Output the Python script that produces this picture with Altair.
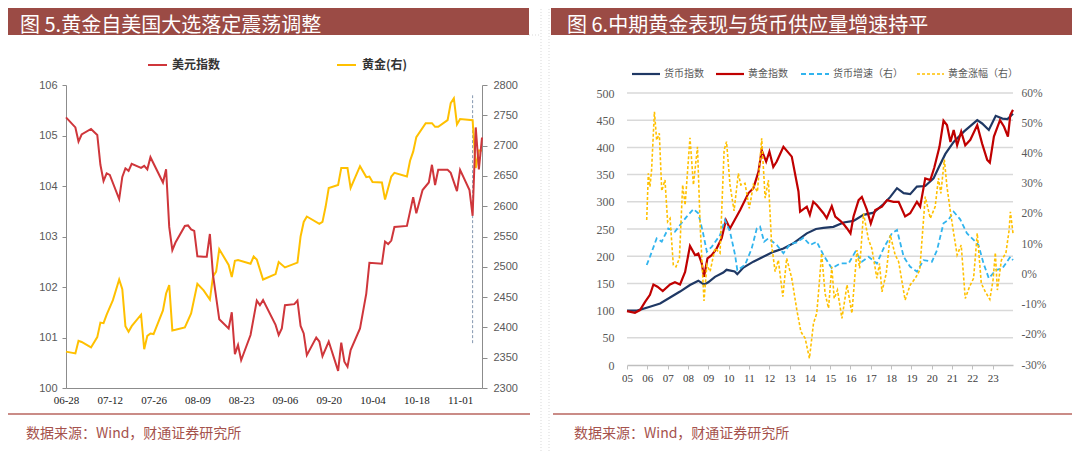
import altair as alt
import pandas as pd

# ---------------- Figure 5: US dollar index vs gold (daily, from 2024-06-28) ----------------
# x = calendar days after 2024-06-28
DXY_DAY = [0, 3, 4, 5, 8, 10, 11, 12, 13, 14, 17, 18, 19, 20, 21, 24, 25, 26, 27, 31,
           32, 33, 34, 35, 38, 39, 40, 41, 42, 44, 45, 46, 47, 49, 52, 53, 54, 55, 56, 59,
           61, 62, 63, 67, 68, 69, 70, 73, 74, 75, 76, 77, 80, 81, 82, 84, 87, 88, 89, 90,
           91, 94, 96, 97, 101, 102, 103, 104, 105, 109, 111, 112, 114, 116, 117, 118, 119, 122, 123, 125,
           126, 129, 130, 131, 132, 133]
DXY_VAL = [105.36, 105.16, 104.88, 105.02, 105.13, 105.01, 104.42, 104.10, 104.25, 104.22,
           103.74, 104.18, 104.35, 104.30, 104.44, 104.36, 104.40, 104.33, 104.57, 104.07,
           104.33, 103.19, 102.73, 102.88, 103.21, 103.22, 103.14, 103.11, 102.61, 102.60,
           102.60, 103.05, 102.24, 101.36, 101.18, 101.50, 100.67, 100.85, 100.55, 101.05,
           101.73, 101.64, 101.74, 101.25, 101.05, 101.18, 101.64, 101.66, 101.73, 101.23,
           101.08, 100.65, 101.00, 100.92, 100.63, 100.92, 100.34, 100.90, 100.52, 100.42,
           100.75, 101.18, 101.87, 102.48, 102.46, 102.90, 102.85, 102.92, 103.19, 103.21,
           103.78, 103.46, 103.92, 104.07, 104.42, 104.02, 104.32, 104.32, 104.26, 103.90,
           104.32, 103.92, 103.41, 105.16, 104.33, 104.96]
GOLD_DAY = [0, 3, 4, 5, 8, 10, 11, 12, 13, 15, 17, 18, 19, 20, 21, 24, 25, 26, 27, 28,
            31, 32, 33, 34, 35, 38, 40, 42, 44, 46, 47, 48, 49, 52, 53, 54, 55, 59, 60, 61,
            63, 67, 68, 70, 74, 75, 76, 77, 81, 82, 83, 84, 87, 88, 90, 91, 94, 96, 97, 98,
            101, 102, 104, 105, 109, 110, 111, 112, 115, 117, 118, 119, 122, 123, 124, 125, 126, 130, 131, 132,
            133]
GOLD_VAL = [2360, 2357, 2378, 2376, 2367, 2384, 2408, 2407, 2421, 2445,
            2479, 2463, 2402, 2393, 2402, 2421, 2364, 2386, 2390, 2389,
            2428, 2456, 2470, 2395, 2396, 2400, 2423, 2472, 2461, 2446,
            2484, 2492, 2529, 2503, 2483, 2510, 2511, 2505, 2517, 2512,
            2479, 2488, 2508, 2499, 2507, 2550, 2574, 2583, 2571, 2574,
            2599, 2630, 2635, 2663, 2663, 2630, 2666, 2648, 2649, 2640,
            2639, 2611, 2649, 2655, 2649, 2675, 2690, 2714, 2737, 2737,
            2731, 2731, 2742, 2770, 2778, 2735, 2744, 2742, 2663, 2692,
            2692]
ELECTION_DAY = [130]
ELECTION_SPAN = [2374, 2783]
F5_XTICKS = [0, 14, 28, 42, 56, 70, 84, 98, 112, 126]
F5_LTICKS = [100, 101, 102, 103, 104, 105, 106]
F5_RTICKS = [2300, 2350, 2400, 2450, 2500, 2550, 2600, 2650, 2700, 2750, 2800]

# ---------------- Figure 6: gold index vs money index (monthly 2005-2023) ----------------
MONEY_T = [2005.0, 2005.5, 2006.13, 2006.63, 2007.12, 2007.61, 2008.1, 2008.51, 2008.79, 2009.0,
           2009.33, 2009.74, 2009.9, 2010.3, 2010.43, 2010.73, 2011.22, 2011.71, 2012.2, 2012.7,
           2013.2, 2013.85, 2014.3, 2014.67, 2015.16, 2015.66, 2016.15, 2016.64, 2017.14, 2017.63,
           2017.96, 2018.29, 2018.62, 2018.94, 2019.27, 2019.68, 2020.09, 2020.33, 2020.67, 2021.08,
           2021.58, 2022.24, 2022.48, 2022.81, 2023.15, 2023.48, 2023.73, 2024.0]
MONEY_V = [100, 100, 107, 113, 124, 135, 147, 155, 148, 152,
           162, 170, 175, 172, 167, 179, 190, 199, 208, 214,
           224, 242, 250, 252, 254, 262, 265, 276, 280, 296,
           309, 325, 316, 314, 328, 329, 343, 362, 388, 410,
           429, 450, 444, 432, 458, 453, 452, 462]
GIDX_T = [2005.0, 2005.39, 2005.64, 2005.89, 2006.13, 2006.3, 2006.5, 2006.76, 2007.12, 2007.36,
          2007.61, 2007.86, 2008.1, 2008.35, 2008.51, 2008.68, 2008.79, 2008.96, 2009.17, 2009.41,
          2009.66, 2009.87, 2010.07, 2010.57, 2010.98, 2011.22, 2011.47, 2011.63, 2011.85, 2012.01,
          2012.2, 2012.37, 2012.7, 2013.11, 2013.44, 2013.52, 2013.85, 2014.0, 2014.17, 2014.34,
          2014.67, 2014.83, 2015.08, 2015.25, 2015.5, 2015.66, 2015.83, 2016.0, 2016.15, 2016.4,
          2016.56, 2016.81, 2017.0, 2017.22, 2017.55, 2017.8, 2018.12, 2018.37, 2018.69, 2018.94,
          2019.27, 2019.43, 2019.68, 2019.93, 2020.12, 2020.38, 2020.58, 2020.75, 2020.92, 2021.08,
          2021.25, 2021.45, 2021.65, 2021.9, 2022.24, 2022.48, 2022.73, 2022.86, 2023.06, 2023.36,
          2023.56, 2023.75, 2023.87, 2024.0]
GIDX_V = [99, 96, 101, 116, 129, 148, 144, 136, 148, 152,
          148, 171, 219, 202, 205, 187, 162, 196, 202, 214,
          233, 266, 251, 285, 316, 325, 355, 395, 374, 392,
          364, 374, 401, 383, 319, 282, 291, 276, 300, 294,
          279, 270, 292, 273, 265, 259, 251, 242, 273, 303,
          309, 285, 260, 285, 291, 303, 300, 300, 273, 279,
          300, 291, 343, 340, 362, 401, 449, 441, 410, 432,
          404, 429, 404, 414, 441, 407, 377, 372, 420, 450,
          438, 420, 460, 469]
MGROW_T = [2005.97, 2006.13, 2006.46, 2006.71, 2007.03, 2007.36, 2007.61, 2007.94, 2008.27, 2008.51,
           2008.73, 2008.93, 2009.17, 2009.58, 2009.82, 2010.07, 2010.32, 2010.43, 2010.81, 2011.14,
           2011.39, 2011.55, 2011.75, 2011.96, 2012.37, 2012.7, 2013.03, 2013.36, 2013.69, 2014.01,
           2014.34, 2014.67, 2015.08, 2015.5, 2015.91, 2016.24, 2016.56, 2016.89, 2017.3, 2017.63,
           2018.04, 2018.29, 2018.62, 2018.94, 2019.27, 2019.6, 2020.01, 2020.26, 2020.58, 2020.82,
           2021.08, 2021.4, 2021.73, 2022.06, 2022.3, 2022.55, 2022.81, 2023.15, 2023.48, 2023.87,
           2024.0]
MGROW_V = [3.1, 5.8, 11.9, 10.8, 15.2, 14.1, 16.3, 19.1, 21.6, 20.2,
           14.1, 7.5, 9.1, 13.0, 18.0, 14.1, 6.4, 1.4, 3.1, 8.6,
           15.2, 15.8, 10.8, 11.9, 9.7, 7.0, 10.0, 10.6, 12.1, 9.7,
           10.8, 6.4, 2.0, 3.6, 3.6, 7.5, 4.2, 5.8, 3.6, 8.6,
           13.6, 14.7, 5.8, 2.5, 0.9, 4.7, 4.2, 8.0, 16.9, 18.0,
           20.7, 18.2, 13.6, 11.4, 9.7, 3.6, -1.3, 1.4, 2.0, 5.8,
           4.7]
GCHG_T = [2005.97, 2006.05, 2006.13, 2006.21, 2006.35, 2006.46, 2006.59, 2006.71, 2006.87, 2007.0,
          2007.12, 2007.28, 2007.41, 2007.58, 2007.74, 2007.86, 2008.1, 2008.27, 2008.47, 2008.6,
          2008.79, 2008.93, 2009.09, 2009.33, 2009.58, 2009.78, 2009.9, 2010.07, 2010.27, 2010.48,
          2010.6, 2010.81, 2011.02, 2011.22, 2011.42, 2011.63, 2011.8, 2011.96, 2012.12, 2012.29,
          2012.45, 2012.67, 2012.86, 2013.11, 2013.36, 2013.56, 2013.77, 2013.98, 2014.18, 2014.34,
          2014.45, 2014.58, 2014.75, 2014.92, 2015.08, 2015.2, 2015.36, 2015.58, 2015.83, 2016.07,
          2016.32, 2016.45, 2016.64, 2016.89, 2017.05, 2017.3, 2017.43, 2017.55, 2017.76, 2017.96,
          2018.2, 2018.37, 2018.69, 2018.94, 2019.19, 2019.41, 2019.68, 2019.93, 2020.17, 2020.33,
          2020.45, 2020.62, 2020.75, 2020.92, 2021.08, 2021.25, 2021.45, 2021.65, 2021.86, 2022.06,
          2022.24, 2022.44, 2022.64, 2022.86, 2023.02, 2023.13, 2023.23, 2023.43, 2023.65, 2023.81,
          2023.87, 2024.0]
GCHG_V = [18.0, 33.4, 29.0, 34.5, 53.8, 44.4, 46.7, 27.6, 31.2, 17.4,
          18.5, 3.1, 2.5, 5.3, 29.6, 22.9, 45.2, 29.6, 42.2, 16.3,
          -8.8, 3.1, 0.9, 8.6, 7.0, 41.1, 43.9, 29.6, 21.0, 33.4,
          29.6, 30.1, 21.8, 29.6, 27.3, 45.0, 25.2, 31.2, 9.7, 0.9,
          4.7, -7.4, 5.3, -1.3, -11.8, -19.0, -21.2, -27.8, -16.2, -12.9,
          -4.1, 7.0, -6.3, -11.2, 2.5, -8.0, -5.2, -14.6, -3.5, -12.9,
          8.0, 2.0, 20.2, 11.4, 8.6, -1.3, 3.6, -5.8, 0.3, 13.0,
          6.4, 4.2, -8.5, -3.5, -1.3, 1.4, 25.7, 18.5, 22.4, 31.8,
          26.8, 38.0, 29.0, 20.7, 13.6, 6.4, 9.7, -8.0, -4.1, -1.3,
          13.6, -3.0, -5.8, -8.3, -1.8, 7.2, -5.2, 4.7, 7.0, 14.7,
          20.7, 13.6]
F6_YEARS = [2005, 2006, 2007, 2008, 2009, 2010, 2011, 2012, 2013, 2014,
            2015, 2016, 2017, 2018, 2019, 2020, 2021, 2022, 2023]
F6_LTICKS = [0, 50, 100, 150, 200, 250, 300, 350, 400, 450, 500]
F6_RTICKS = [-30, -20, -10, 0, 10, 20, 30, 40, 50, 60]
F6_GRID = [50, 100, 150, 200, 250, 300, 350, 400, 450, 500]

TITLE5 = "图 5.黄金自美国大选落定震荡调整"
TITLE6 = "图 6.中期黄金表现与货币供应量增速持平"
SOURCE = "数据来源：Wind，财通证券研究所"
LEG5 = ["美元指数", "黄金(右)"]
LEG6 = ["货币指数", "黄金指数", "货币增速（右）", "黄金涨幅（右）"]

# ---------------- layout helpers (page pixel -> canvas pixel) ----------------
W, H = 1064, 443
OFF = 8


def X(v):
    return v - OFF


def Y(v):
    return v - OFF


def sc(domain, r0, r1):
    return alt.Scale(domain=domain, range=[r0, r1], nice=False, zero=False)


S5X = sc([0, 133], X(66), X(482))
S5L = sc([100, 106], Y(388), Y(85))
S5R = sc([2300, 2800], Y(388), Y(85))
S6X = sc([2005, 2024], X(627), X(1013))
S6L = sc([0, 500], Y(365), Y(93))
S6R = sc([-30, 60], Y(365), Y(93))

ONE = pd.DataFrame({"k": [0]})
CJK = "Noto Sans CJK SC"


def box(x1, x2, y1, y2, **kw):
    return alt.Chart(ONE).mark_rect(**kw).encode(
        x=alt.value(X(x1)), x2=alt.value(X(x2)), y=alt.value(Y(y1)), y2=alt.value(Y(y2)))


def seg(x1, x2, y1, y2, **kw):
    return alt.Chart(ONE).mark_rule(**kw).encode(
        x=alt.value(X(x1)), x2=alt.value(X(x2)), y=alt.value(Y(y1)), y2=alt.value(Y(y2)))


def label(x, y, s, **kw):
    return alt.Chart(pd.DataFrame({"s": [s]})).mark_text(baseline="middle", **kw).encode(
        x=alt.value(X(x)), y=alt.value(Y(y)), text="s:N")


layers = []

# ---- panel frames, title bars, footers ----
TITLE_FILL = "#9b4b45"
layers += [
    seg(541, 541, 0, 452, color="#d9d9d9", strokeDash=[1, 2]),
    seg(549, 549, 0, 452, color="#d9d9d9", strokeDash=[1, 2]),
    seg(529, 541, 35, 35, color="#d9d9d9", strokeDash=[1, 2]),
    box(3, 529, 6, 35, fill=TITLE_FILL),
    box(551, 1077, 6, 35, fill=TITLE_FILL),
    label(20, 25.5, TITLE5, align="left", font=CJK, fontSize=20, color="white"),
    label(567, 25.5, TITLE6, align="left", font=CJK, fontSize=20, color="white"),
    seg(3, 530, 414, 414, color="#b9665f", strokeWidth=1.5),
    seg(553, 1080, 414, 414, color="#b9665f", strokeWidth=1.5),
    label(26, 434, SOURCE, align="left", font=CJK, fontSize=14, color="#a5524c"),
    label(574, 434, SOURCE, align="left", font=CJK, fontSize=14, color="#a5524c"),
]

# ---- figure 5 ----
AX_GRAY = "#8c8c8c"
df_gold = pd.DataFrame({"d": GOLD_DAY, "g": GOLD_VAL})
df_dxy = pd.DataFrame({"d": DXY_DAY, "v": DXY_VAL})
df_elec = pd.DataFrame({"d": ELECTION_DAY, "g1": [ELECTION_SPAN[0]], "g2": [ELECTION_SPAN[1]]})

gold5 = alt.Chart(df_gold).mark_line(color="#ffc000", strokeWidth=2).encode(
    x=alt.X("d:Q", scale=S5X, axis=None),
    y=alt.Y("g:Q", scale=S5R, axis=alt.Axis(
        orient="right", offset=X(482) - W, values=F5_RTICKS, title=None, grid=False,
        format="d", domainColor=AX_GRAY, tickColor=AX_GRAY, tickSize=5, labelPadding=6,
        labelFont="Liberation Sans", labelFontSize=11, labelColor="#595959",
        labelOverlap=False, labelFlush=False)),
)
dxy5 = alt.Chart(df_dxy).mark_line(color="#cf363b", strokeWidth=2).encode(
    x=alt.X("d:Q", scale=S5X, axis=alt.Axis(
        orient="bottom", offset=Y(388) - H, values=F5_XTICKS, title=None, grid=False,
        labelExpr="timeFormat(datetime(2024, 5, 28 + datum.value), '%m-%d')",
        ticks=False, domainColor=AX_GRAY, labelPadding=6,
        labelFont="Liberation Serif", labelFontSize=11, labelColor="#1a1a1a",
        labelOverlap=False, labelFlush=False)),
    y=alt.Y("v:Q", scale=S5L, axis=alt.Axis(
        orient="left", offset=-X(66), values=F5_LTICKS, title=None, grid=False,
        format="d", domainColor=AX_GRAY, tickColor=AX_GRAY, tickSize=4, labelPadding=5,
        labelFont="Liberation Sans", labelFontSize=11, labelColor="#595959",
        labelOverlap=False, labelFlush=False)),
)
elec5 = alt.Chart(df_elec).mark_rule(color="#8497b0", strokeDash=[3, 2], strokeWidth=1).encode(
    x=alt.X("d:Q", scale=S5X, axis=None),
    y=alt.Y("g1:Q", scale=S5R, axis=None),
    y2="g2:Q",
)
layers += [elec5, gold5, dxy5]
layers += [
    seg(148, 167, 65, 65, color="#cf363b", strokeWidth=2),
    label(172, 65, LEG5[0], align="left", font=CJK, fontSize=12, fontWeight="bold", color="#333333"),
    seg(337, 356, 65, 65, color="#ffc000", strokeWidth=2),
    label(362, 65, LEG5[1], align="left", font=CJK, fontSize=12, fontWeight="bold", color="#333333"),
]

# ---- figure 6 ----
df_grid = pd.DataFrame({"v": F6_GRID, "a": [2005] * len(F6_GRID), "b": [2024] * len(F6_GRID)})
grid6 = alt.Chart(df_grid).mark_rule(color="#d9d9d9", strokeWidth=1.5).encode(
    y=alt.Y("v:Q", scale=S6L, axis=None),
    x=alt.X("a:Q", scale=S6X, axis=None),
    x2="b:Q",
)
money6 = alt.Chart(pd.DataFrame({"t": MONEY_T, "v": MONEY_V})).mark_line(
    color="#1f3864", strokeWidth=2.2).encode(
    x=alt.X("t:Q", scale=S6X, axis=alt.Axis(
        orient="bottom", offset=Y(365) - H, values=F6_YEARS, title=None, grid=False,
        labelExpr="(datum.value < 2010 ? '0' : '') + (datum.value - 2000)",
        ticks=True, tickSize=4, tickColor="#bfbfbf", domainColor="#bfbfbf", domainWidth=1.5,
        labelPadding=3, labelFont="Liberation Serif", labelFontSize=11, labelColor="#404040",
        labelOverlap=False, labelFlush=False)),
    y=alt.Y("v:Q", scale=S6L, axis=alt.Axis(
        orient="left", offset=-X(627), values=F6_LTICKS, title=None, grid=False,
        domain=False, ticks=False, labelPadding=13,
        labelFont="Liberation Serif", labelFontSize=12, labelColor="#595959",
        labelOverlap=False, labelFlush=False)),
)
gidx6 = alt.Chart(pd.DataFrame({"t": GIDX_T, "v": GIDX_V})).mark_line(
    color="#c00000", strokeWidth=2.2).encode(
    x=alt.X("t:Q", scale=S6X, axis=None),
    y=alt.Y("v:Q", scale=S6L, axis=None),
)
mgrow6 = alt.Chart(pd.DataFrame({"t": MGROW_T, "v": MGROW_V})).mark_line(
    color="#31b4ee", strokeWidth=1.8, strokeDash=[5, 3]).encode(
    x=alt.X("t:Q", scale=S6X, axis=None),
    y=alt.Y("v:Q", scale=S6R, axis=alt.Axis(
        orient="right", offset=X(1013) - W, values=F6_RTICKS, title=None, grid=False,
        domain=False, ticks=False, labelPadding=8, labelExpr="datum.value + '%'",
        labelFont="Liberation Serif", labelFontSize=11.5, labelColor="#595959",
        labelOverlap=False, labelFlush=False)),
)
gchg6 = alt.Chart(pd.DataFrame({"t": GCHG_T, "v": GCHG_V})).mark_line(
    color="#ffc000", strokeWidth=1.6, strokeDash=[3, 2]).encode(
    x=alt.X("t:Q", scale=S6X, axis=None),
    y=alt.Y("v:Q", scale=S6R, axis=None),
)
layers += [grid6, money6, gidx6, mgrow6, gchg6]
LEGC = "#595959"
layers += [
    seg(632, 660, 74, 74, color="#1f3864", strokeWidth=2.2),
    label(664, 74, LEG6[0], align="left", font=CJK, fontSize=10, color=LEGC),
    seg(716, 744, 74, 74, color="#c00000", strokeWidth=2.2),
    label(748, 74, LEG6[1], align="left", font=CJK, fontSize=10, color=LEGC),
    seg(801, 829, 74, 74, color="#31b4ee", strokeWidth=1.8, strokeDash=[5, 3]),
    label(833, 74, LEG6[2], align="left", font=CJK, fontSize=10, color=LEGC),
    seg(917, 944, 74, 74, color="#ffc000", strokeWidth=1.6, strokeDash=[3, 2]),
    label(948, 74, LEG6[3], align="left", font=CJK, fontSize=10, color=LEGC),
]

chart = (
    alt.layer(*layers)
    .resolve_scale(x="independent", y="independent")
    .resolve_axis(x="independent", y="independent")
    .properties(width=W, height=H, autosize=alt.AutoSizeParams(type="none"), padding=0)
    .configure_view(stroke=None)
)

chart.save("out.html", embed_options={"renderer": "svg", "actions": False})
